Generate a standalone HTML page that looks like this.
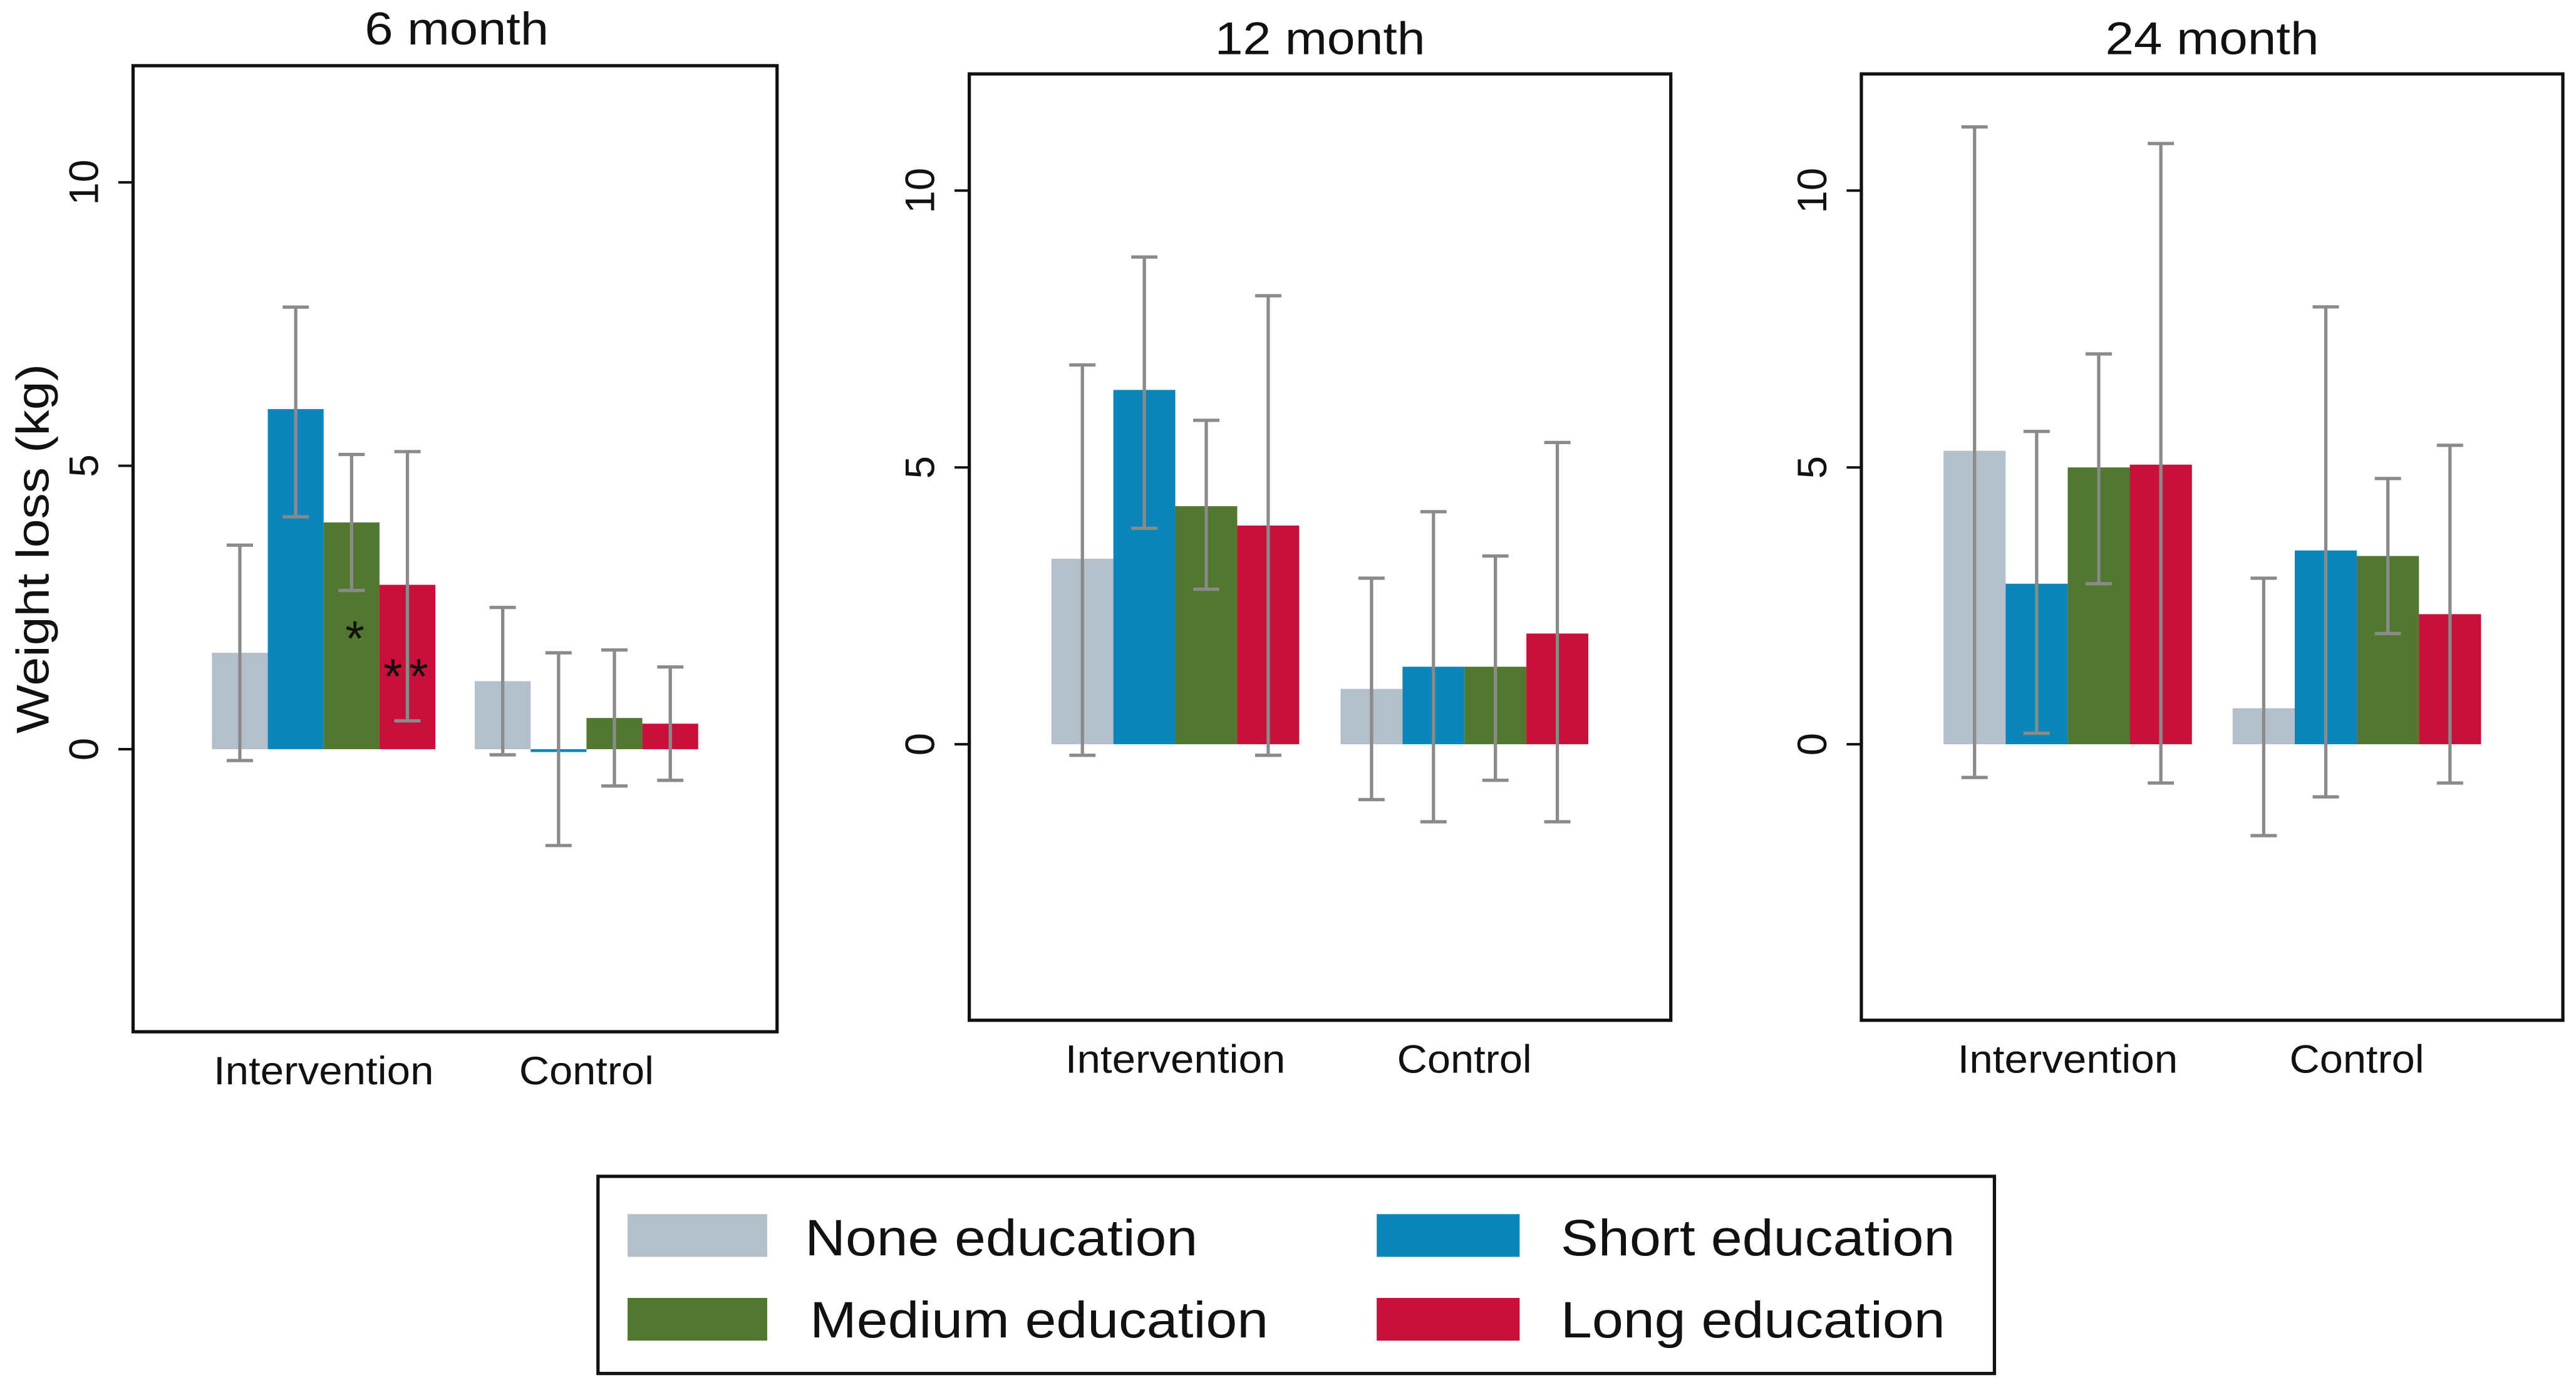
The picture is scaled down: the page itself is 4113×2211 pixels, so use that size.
<!DOCTYPE html>
<html><head><meta charset="utf-8"><style>
html,body{margin:0;padding:0;background:#fff;}
svg{display:block;}
text{font-family:"Liberation Sans",Arial,sans-serif;fill:#111;}
</style></head><body>
<svg id="chart" width="4113" height="2211" viewBox="0 0 1568 843" preserveAspectRatio="none" xmlns="http://www.w3.org/2000/svg">
<text x="20" y="334" font-size="28" text-anchor="middle" dominant-baseline="central" textLength="225" lengthAdjust="spacingAndGlyphs" transform="rotate(-90 20 334)">Weight loss (kg)</text>
<g id="panels"></g>
<g>
<rect x="364" y="716" width="850" height="120" fill="#fff" stroke="#111" stroke-width="2"/>
<rect x="382" y="739" width="85" height="26" fill="#b3bfca"/>
<text x="490" y="764" font-size="31" textLength="239" lengthAdjust="spacingAndGlyphs">None education</text>
<rect x="838" y="739" width="87" height="26" fill="#0a86ba"/>
<text x="950" y="764" font-size="31" textLength="240" lengthAdjust="spacingAndGlyphs">Short education</text>
<rect x="382" y="790" width="85" height="26" fill="#52772f"/>
<text x="493" y="814" font-size="31" textLength="279" lengthAdjust="spacingAndGlyphs">Medium education</text>
<rect x="838" y="790" width="87" height="26" fill="#c8103a"/>
<text x="950" y="814" font-size="31" textLength="234" lengthAdjust="spacingAndGlyphs">Long education</text>
</g>
</svg>
<script>
const panelTitles = ["6 month", "12 month", "24 month"];
const groups = ["Intervention", "Control"];
const seriesNames = ["None education", "Short education", "Medium education", "Long education"];
const yTicks = [0, 5, 10];
// values per panel: [group][series]
const means6 = [[1.7, 6.0, 4.0, 2.9], [1.2, -0.05, 0.55, 0.45]];
const lo6 = [[-0.2, 4.1, 2.8, 0.5], [-0.1, -1.7, -0.65, -0.55]];
const hi6 = [[3.6, 7.8, 5.2, 5.25], [2.5, 1.7, 1.75, 1.45]];
const means12 = [[3.35, 6.4, 4.3, 3.95], [1.0, 1.4, 1.4, 2.0]];
const lo12 = [[-0.2, 3.9, 2.8, -0.2], [-1.0, -1.4, -0.65, -1.4]];
const hi12 = [[6.85, 8.8, 5.85, 8.1], [3.0, 4.2, 3.4, 5.45]];
const means24 = [[5.3, 2.9, 5.0, 5.05], [0.65, 3.5, 3.4, 2.35]];
const lo24 = [[-0.6, 0.2, 2.9, -0.7], [-1.65, -0.95, 2.0, -0.7]];
const hi24 = [[11.15, 5.65, 7.05, 10.85], [3.0, 7.9, 4.8, 5.4]];

const colors = ["#b3bfca", "#0a86ba", "#52772f", "#c8103a"];
const NS = "http://www.w3.org/2000/svg";
const layouts = [
  {x0:81,x1:473,y0:40,y1:628,zero:456,ten:111,g0:129,g1:289,bw:34,titleY:27,catY:660},
  {x0:590,x1:1017,y0:45,y1:621,zero:453,ten:116,g0:640,g1:816,bw:37.7,titleY:33,catY:653},
  {x0:1133,x1:1560,y0:45,y1:621,zero:453,ten:116,g0:1183,g1:1359,bw:37.8,titleY:33,catY:653}
];
const titleWidths = [112, 128, 130];
const catWidths = [134, 82];
const allMeans = [means6, means12, means24];
const allLo = [lo6, lo12, lo24];
const allHi = [hi6, hi12, hi24];
const root = document.getElementById("panels");
function mk(tag, attrs){const e=document.createElementNS(NS,tag);for(const k in attrs)e.setAttribute(k,attrs[k]);return e;}
layouts.forEach((L, p) => {
  const g = mk("g", {});
  
  
  root.appendChild(g);
  const yS = v => L.zero + (L.ten - L.zero) * v / 10;
  const t = mk("text", {x:(L.x0+L.x1)/2 - (p===0?-1:0), y:L.titleY, "font-size":28, "text-anchor":"middle", textLength:titleWidths[p], lengthAdjust:"spacingAndGlyphs"});
  t.textContent = panelTitles[p];
  
  
  g.appendChild(t);
  yTicks.forEach(v => {
    const y = yS(v);
    const tk = mk("line", {x1:L.x0-9, x2:L.x0, y1:y, y2:y, stroke:"#111", "stroke-width":1.5});
    
    
    g.appendChild(tk);
    const lx = L.x0 - 30;
    const lb = mk("text", {x:lx, y:y, "font-size":25, "text-anchor":"middle", "dominant-baseline":"central", transform:`rotate(-90 ${lx} ${y})`});
    lb.textContent = v;
    
    
    g.appendChild(lb);
  });
  groups.forEach((gn, gi) => {
    const gx = gi === 0 ? L.g0 : L.g1;
    seriesNames.forEach((sn, si) => {
      const m = allMeans[p][gi][si];
      const x = gx + si * L.bw;
      const yTop = Math.min(yS(m), yS(0)), h = Math.max(Math.abs(yS(m) - yS(0)), 1.5);
      const r = mk("rect", {x:x, y:yTop, width:L.bw, height:h, fill:colors[si]});
      
      
      g.appendChild(r);
    });
    seriesNames.forEach((sn, si) => {
      const cx = gx + si * L.bw + L.bw / 2;
      const yl = yS(allLo[p][gi][si]), yh = yS(allHi[p][gi][si]);
      const eb = mk("path", {d:`M${cx},${yl}V${yh}M${cx-8},${yl}H${cx+8}M${cx-8},${yh}H${cx+8}`, stroke:"#8a8a8a", "stroke-width":2, fill:"none"});
      
      
      g.appendChild(eb);
    });
    const ct = mk("text", {x:gx + 2 * L.bw, y:L.catY, "font-size":24, "text-anchor":"middle", textLength:catWidths[gi], lengthAdjust:"spacingAndGlyphs"});
    ct.textContent = gn;
    
    
    g.appendChild(ct);
  });
  const box = mk("rect", {x:L.x0, y:L.y0, width:L.x1-L.x0, height:L.y1-L.y0, fill:"none", stroke:"#111", "stroke-width":2});
  
  
  g.appendChild(box);
});
const s1 = mk("text", {x:216, y:399, "font-size":30, "text-anchor":"middle"});
s1.textContent = "*";


root.appendChild(s1);
const s2 = mk("text", {x:249, y:422, "font-size":30, "text-anchor":"middle", "letter-spacing":"4"});
s2.textContent = "**";


root.appendChild(s2);
</script>
</body></html>
